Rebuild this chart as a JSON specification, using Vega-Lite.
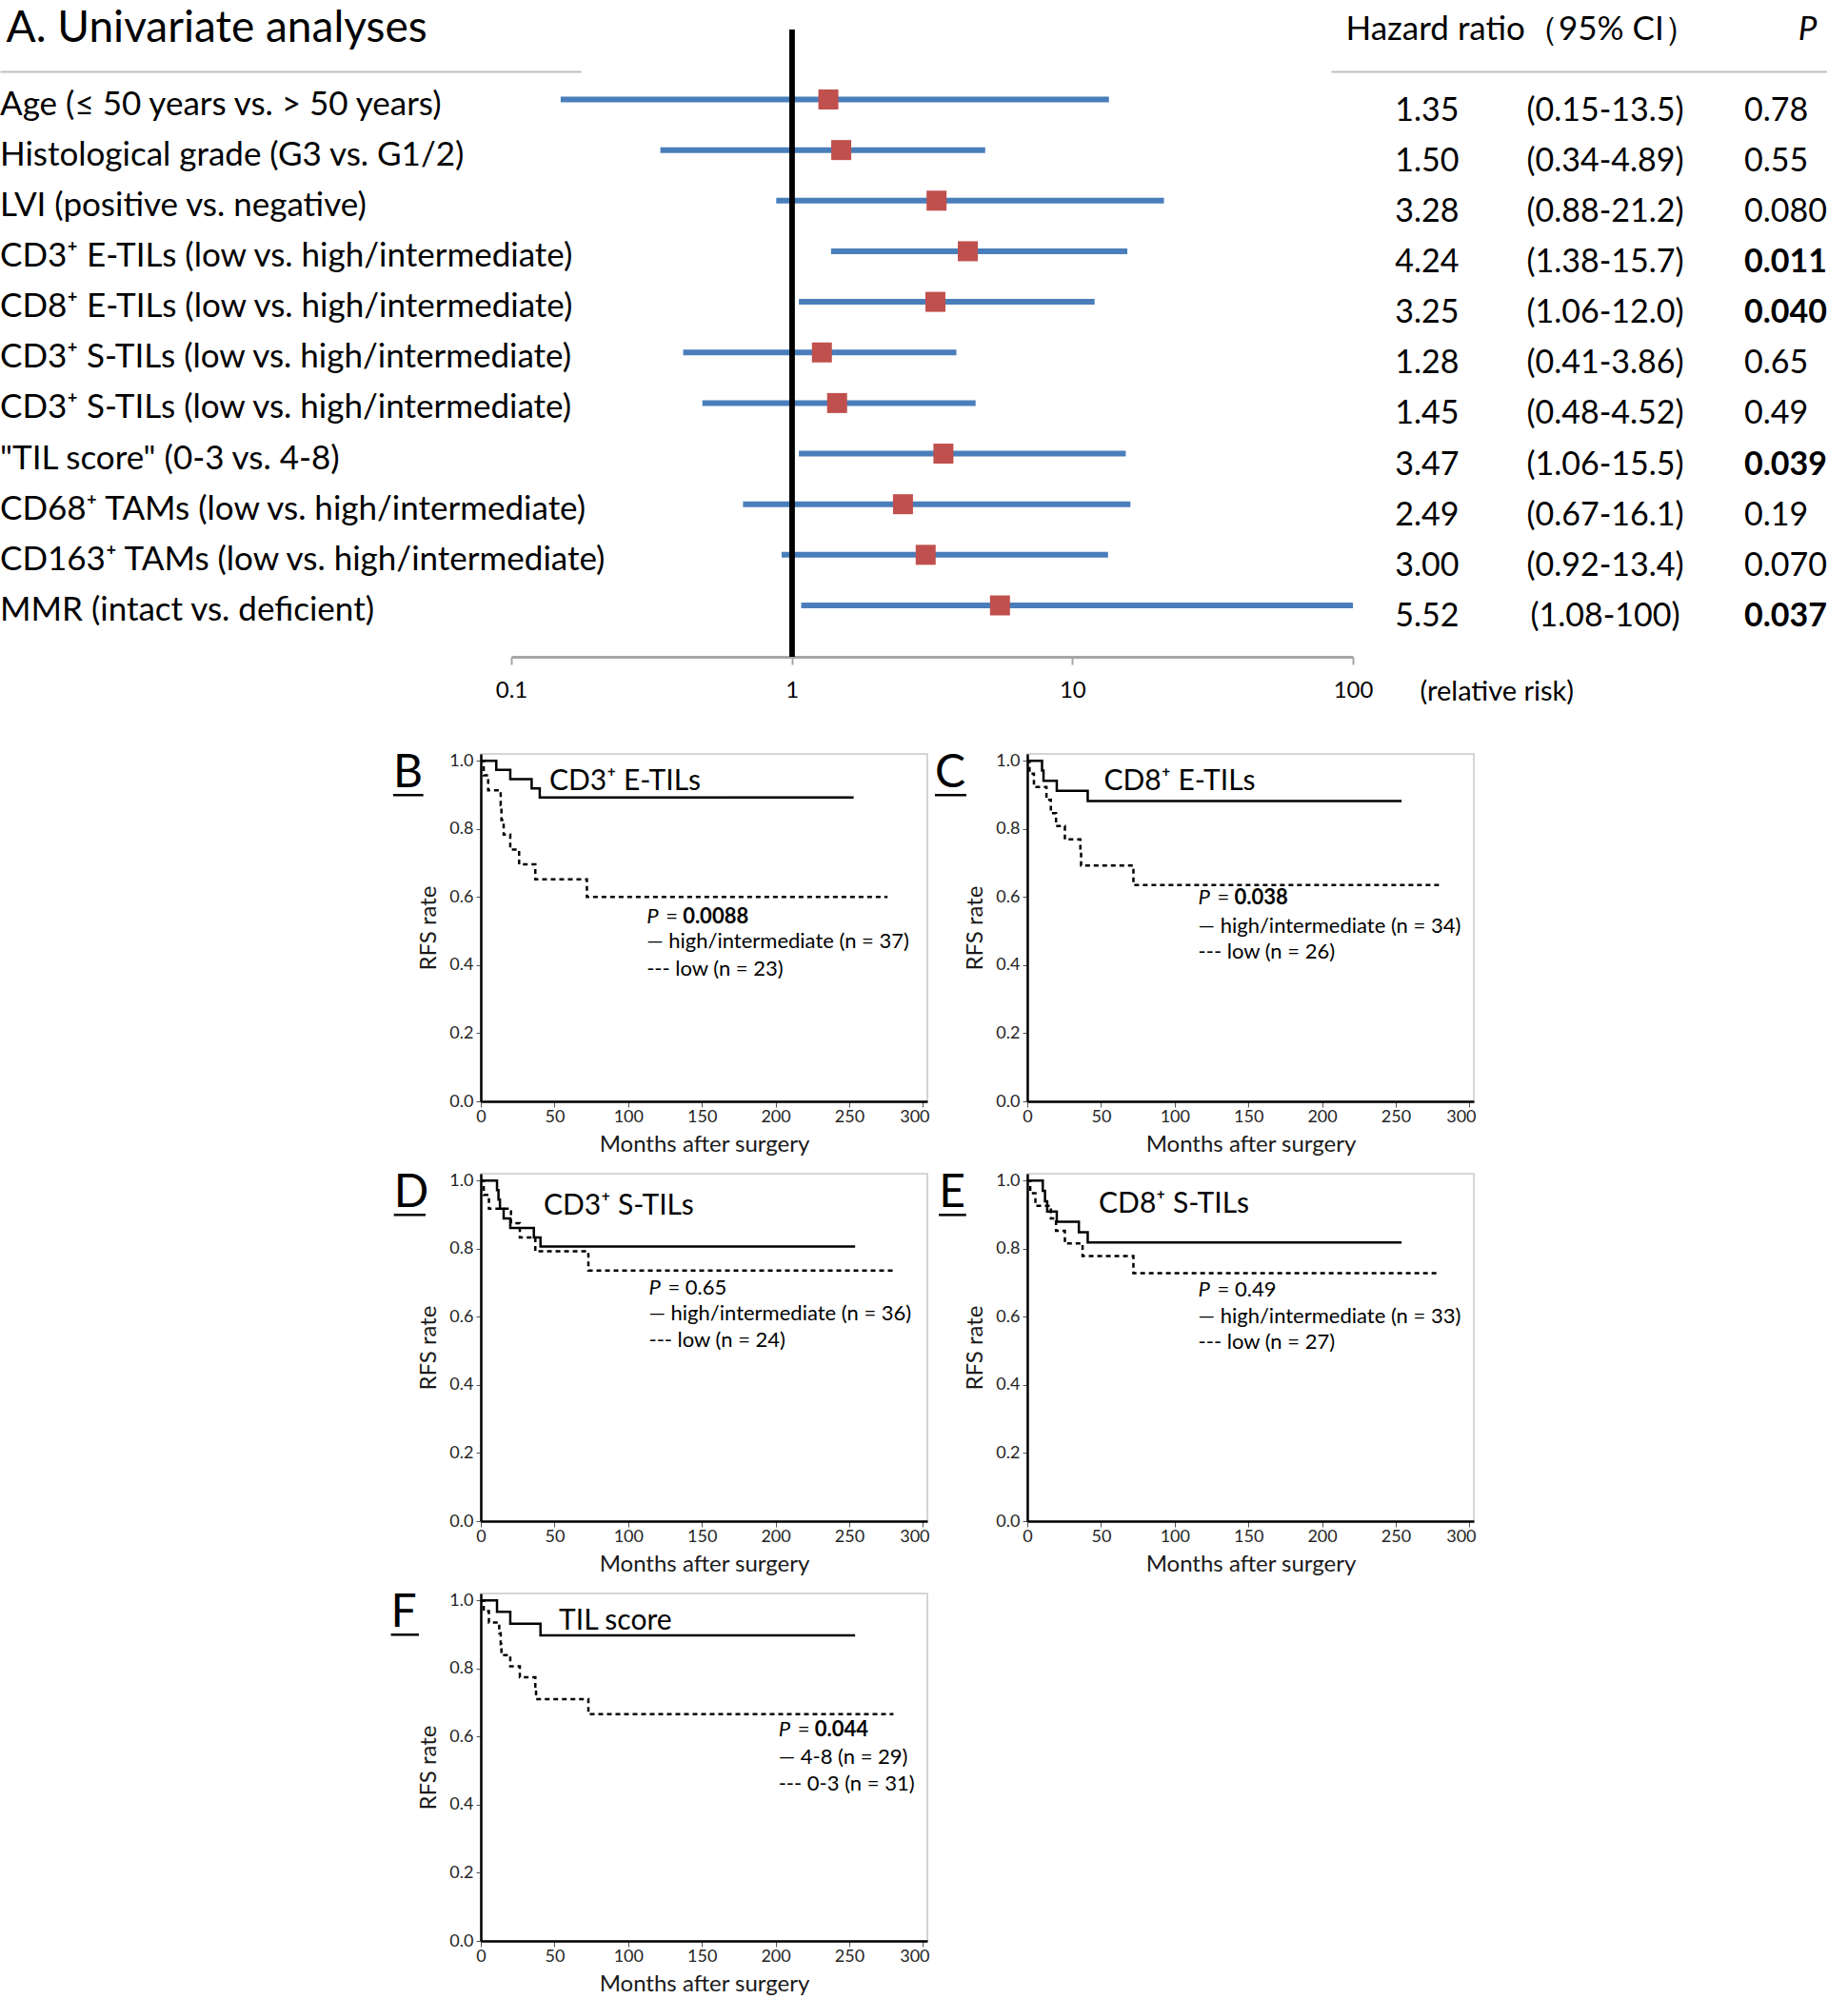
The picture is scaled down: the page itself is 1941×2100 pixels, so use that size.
{
  "$schema": "https://vega.github.io/schema/vega-lite/v6.json",
  "background": "white",
  "padding": {"left": 0, "top": 6, "right": 0, "bottom": 0},
  "config": {
    "font": "Lato",
    "view": {"stroke": "#c8c8c8", "strokeWidth": 1.5},
    "axis": {"grid": false, "labelFont": "Lato", "titleFont": "Lato", "labelColor": "#262626", "titleColor": "#1a1a1a", "titleFontWeight": "normal"},
    "text": {"font": "Lato", "color": "black"}
  },
  "datasets": {
    "forest": [
      {"i": 1, "label": "Age (≤ 50 years vs. > 50 years)", "hr": 1.35, "lo": 0.15, "hi": 13.5, "HRt": "1.35", "CIt": "(0.15-13.5)", "Pt": "0.78", "sig": false},
      {"i": 2, "label": "Histological grade (G3 vs. G1/2)", "hr": 1.50, "lo": 0.34, "hi": 4.89, "HRt": "1.50", "CIt": "(0.34-4.89)", "Pt": "0.55", "sig": false},
      {"i": 3, "label": "LVI (positive vs. negative)", "hr": 3.28, "lo": 0.88, "hi": 21.2, "HRt": "3.28", "CIt": "(0.88-21.2)", "Pt": "0.080", "sig": false},
      {"i": 4, "label": "CD3⁺ E-TILs (low vs. high/intermediate)", "hr": 4.24, "lo": 1.38, "hi": 15.7, "HRt": "4.24", "CIt": "(1.38-15.7)", "Pt": "0.011", "sig": true},
      {"i": 5, "label": "CD8⁺ E-TILs (low vs. high/intermediate)", "hr": 3.25, "lo": 1.06, "hi": 12.0, "HRt": "3.25", "CIt": "(1.06-12.0)", "Pt": "0.040", "sig": true},
      {"i": 6, "label": "CD3⁺ S-TILs (low vs. high/intermediate)", "hr": 1.28, "lo": 0.41, "hi": 3.86, "HRt": "1.28", "CIt": "(0.41-3.86)", "Pt": "0.65", "sig": false},
      {"i": 7, "label": "CD3⁺ S-TILs (low vs. high/intermediate)", "hr": 1.45, "lo": 0.48, "hi": 4.52, "HRt": "1.45", "CIt": "(0.48-4.52)", "Pt": "0.49", "sig": false},
      {"i": 8, "label": "\"TIL score\" (0-3 vs. 4-8)", "hr": 3.47, "lo": 1.06, "hi": 15.5, "HRt": "3.47", "CIt": "(1.06-15.5)", "Pt": "0.039", "sig": true},
      {"i": 9, "label": "CD68⁺ TAMs (low vs. high/intermediate)", "hr": 2.49, "lo": 0.67, "hi": 16.1, "HRt": "2.49", "CIt": "(0.67-16.1)", "Pt": "0.19", "sig": false},
      {"i": 10, "label": "CD163⁺ TAMs (low vs. high/intermediate)", "hr": 3.00, "lo": 0.92, "hi": 13.4, "HRt": "3.00", "CIt": "(0.92-13.4)", "Pt": "0.070", "sig": false},
      {"i": 11, "label": "MMR (intact vs. deficient)", "hr": 5.52, "lo": 1.08, "hi": 100, "HRt": "5.52", "CIt": "(1.08-100)", "Pt": "0.037", "sig": true}
    ],
    "km": [
      {"p": "B", "g": "hi", "t": 0, "s": 1}, {"p": "B", "g": "hi", "t": 10.5, "s": 0.973}, {"p": "B", "g": "hi", "t": 20, "s": 0.946}, {"p": "B", "g": "hi", "t": 34.5, "s": 0.919}, {"p": "B", "g": "hi", "t": 40, "s": 0.892}, {"p": "B", "g": "hi", "t": 253, "s": 0.892},
      {"p": "B", "g": "lo", "t": 0, "s": 1}, {"p": "B", "g": "lo", "t": 2, "s": 0.957}, {"p": "B", "g": "lo", "t": 5, "s": 0.913}, {"p": "B", "g": "lo", "t": 13.5, "s": 0.87}, {"p": "B", "g": "lo", "t": 14, "s": 0.826}, {"p": "B", "g": "lo", "t": 15.5, "s": 0.783}, {"p": "B", "g": "lo", "t": 20, "s": 0.739}, {"p": "B", "g": "lo", "t": 26, "s": 0.696}, {"p": "B", "g": "lo", "t": 37, "s": 0.652}, {"p": "B", "g": "lo", "t": 72, "s": 0.6}, {"p": "B", "g": "lo", "t": 276, "s": 0.6},
      {"p": "C", "g": "hi", "t": 0, "s": 1}, {"p": "C", "g": "hi", "t": 10, "s": 0.971}, {"p": "C", "g": "hi", "t": 11, "s": 0.941}, {"p": "C", "g": "hi", "t": 20, "s": 0.912}, {"p": "C", "g": "hi", "t": 41, "s": 0.882}, {"p": "C", "g": "hi", "t": 254, "s": 0.882},
      {"p": "C", "g": "lo", "t": 0, "s": 1}, {"p": "C", "g": "lo", "t": 1.5, "s": 0.962}, {"p": "C", "g": "lo", "t": 4.5, "s": 0.923}, {"p": "C", "g": "lo", "t": 13, "s": 0.885}, {"p": "C", "g": "lo", "t": 16, "s": 0.846}, {"p": "C", "g": "lo", "t": 19.5, "s": 0.808}, {"p": "C", "g": "lo", "t": 25.5, "s": 0.769}, {"p": "C", "g": "lo", "t": 36, "s": 0.731}, {"p": "C", "g": "lo", "t": 36.5, "s": 0.692}, {"p": "C", "g": "lo", "t": 72, "s": 0.635}, {"p": "C", "g": "lo", "t": 280, "s": 0.635},
      {"p": "D", "g": "hi", "t": 0, "s": 1}, {"p": "D", "g": "hi", "t": 11, "s": 0.972}, {"p": "D", "g": "hi", "t": 12, "s": 0.944}, {"p": "D", "g": "hi", "t": 13, "s": 0.917}, {"p": "D", "g": "hi", "t": 15.5, "s": 0.889}, {"p": "D", "g": "hi", "t": 20, "s": 0.861}, {"p": "D", "g": "hi", "t": 36, "s": 0.833}, {"p": "D", "g": "hi", "t": 40.5, "s": 0.806}, {"p": "D", "g": "hi", "t": 254, "s": 0.806},
      {"p": "D", "g": "lo", "t": 0, "s": 1}, {"p": "D", "g": "lo", "t": 2, "s": 0.958}, {"p": "D", "g": "lo", "t": 5.5, "s": 0.917}, {"p": "D", "g": "lo", "t": 20.5, "s": 0.875}, {"p": "D", "g": "lo", "t": 26.5, "s": 0.833}, {"p": "D", "g": "lo", "t": 37, "s": 0.792}, {"p": "D", "g": "lo", "t": 73, "s": 0.736}, {"p": "D", "g": "lo", "t": 280, "s": 0.736},
      {"p": "E", "g": "hi", "t": 0, "s": 1}, {"p": "E", "g": "hi", "t": 10.5, "s": 0.97}, {"p": "E", "g": "hi", "t": 12, "s": 0.939}, {"p": "E", "g": "hi", "t": 13.5, "s": 0.909}, {"p": "E", "g": "hi", "t": 20, "s": 0.879}, {"p": "E", "g": "hi", "t": 35, "s": 0.848}, {"p": "E", "g": "hi", "t": 41, "s": 0.818}, {"p": "E", "g": "hi", "t": 254, "s": 0.818},
      {"p": "E", "g": "lo", "t": 0, "s": 1}, {"p": "E", "g": "lo", "t": 2, "s": 0.963}, {"p": "E", "g": "lo", "t": 5.5, "s": 0.926}, {"p": "E", "g": "lo", "t": 16, "s": 0.889}, {"p": "E", "g": "lo", "t": 19.5, "s": 0.852}, {"p": "E", "g": "lo", "t": 25.5, "s": 0.815}, {"p": "E", "g": "lo", "t": 37.5, "s": 0.778}, {"p": "E", "g": "lo", "t": 72, "s": 0.728}, {"p": "E", "g": "lo", "t": 279, "s": 0.728},
      {"p": "F", "g": "hi", "t": 0, "s": 1}, {"p": "F", "g": "hi", "t": 11, "s": 0.966}, {"p": "F", "g": "hi", "t": 20, "s": 0.931}, {"p": "F", "g": "hi", "t": 40.5, "s": 0.897}, {"p": "F", "g": "hi", "t": 254, "s": 0.897},
      {"p": "F", "g": "lo", "t": 0, "s": 1}, {"p": "F", "g": "lo", "t": 2, "s": 0.968}, {"p": "F", "g": "lo", "t": 5.5, "s": 0.935}, {"p": "F", "g": "lo", "t": 12.5, "s": 0.903}, {"p": "F", "g": "lo", "t": 13.5, "s": 0.871}, {"p": "F", "g": "lo", "t": 14, "s": 0.839}, {"p": "F", "g": "lo", "t": 20, "s": 0.806}, {"p": "F", "g": "lo", "t": 26.5, "s": 0.774}, {"p": "F", "g": "lo", "t": 37, "s": 0.742}, {"p": "F", "g": "lo", "t": 37.5, "s": 0.71}, {"p": "F", "g": "lo", "t": 73, "s": 0.666}, {"p": "F", "g": "lo", "t": 280, "s": 0.666}
    ]
  },
  "bounds": "flush",
  "columns": 2,
  "align": "each",
  "spacing": {"row": 76, "column": 105},
  "concat": [
    {
      "width": 469,
      "height": 659,
      "view": {"stroke": null},
      "data": {"name": "forest"},
      "resolve": {"scale": {"x": "independent"}, "axis": {"x": "independent"}},
      "layer": [
        {
          "layer": [
            {
              "mark": {"type": "rule", "color": "#4A7EBB", "strokeWidth": 6},
              "encoding": {
                "x": {"field": "lo", "type": "quantitative", "scale": {"type": "log", "domain": [0.1, 100], "range": [32, 916], "nice": false},
                  "axis": {"orient": "bottom", "values": [0.1, 1, 10, 100], "format": "~g", "domainColor": "#a6a6a6", "domainWidth": 3, "tickColor": "#a6a6a6", "tickWidth": 2, "tickSize": 8, "labelFontSize": 24, "labelColor": "black", "labelPadding": 15, "labelFlush": false, "labelOverlap": false, "title": "(relative risk)", "titleFontSize": 29, "titleColor": "black", "titleX": 986, "titleY": 36, "titleAlign": "left", "titleBaseline": "middle"}},
                "x2": {"field": "hi"},
                "y": {"field": "i", "type": "ordinal", "scale": {"type": "point", "range": [73.5, 605], "padding": 0}, "axis": null}
              }
            },
            {
              "mark": {"type": "point", "shape": "square", "filled": true, "size": 441, "color": "#C0504D", "opacity": 1},
              "encoding": {
                "x": {"field": "hr", "type": "quantitative"},
                "y": {"field": "i", "type": "ordinal"}
              }
            },
            {
              "mark": {"type": "rule", "color": "black", "strokeWidth": 5},
              "encoding": {"x": {"datum": 1, "type": "quantitative"}}
            }
          ]
        },
        {
          "mark": {"type": "text", "fontSize": 35, "align": "left", "baseline": "middle", "dy": 5},
          "encoding": {
            "x": {"datum": 0, "type": "quantitative", "scale": {"domain": [0, 1], "range": [-505, 105]},
              "axis": {"orient": "top", "offset": -44, "domainColor": "#bfbfbf", "domainWidth": 2, "ticks": false, "labels": false, "title": "A. Univariate analyses", "titleAnchor": "start", "titleAlign": "left", "titleX": -499, "titleBaseline": "alphabetic", "titleFontSize": 46, "titleFontWeight": "normal", "titleColor": "black", "titlePadding": 32}},
            "y": {"field": "i", "type": "ordinal"},
            "text": {"field": "label"}
          }
        }
      ]
    },
    {
      "width": 469,
      "height": 685,
      "view": {"stroke": null},
      "data": {"name": "forest"},
      "layer": [
        {
          "mark": {"type": "text", "fontSize": 34, "align": "center", "baseline": "middle", "dy": 12},
          "encoding": {
            "x": {"datum": "HR", "type": "nominal", "scale": {"type": "point", "domain": ["HR", "CI", "P"], "range": [319, 858], "padding": 0.441, "align": 0.612},
              "axis": {"orient": "top", "offset": -44, "domainColor": "#bfbfbf", "domainWidth": 2, "ticks": false,
                "labelExpr": "datum.value === 'HR' ? 'Hazard ratio（95% CI）' : (datum.value === 'P' ? 'P' : '')",
                "labelAngle": 0, "labelLimit": 0,
                "labelAlign": {"condition": {"test": "datum.value === 'HR'", "value": "left"}, "value": "center"},
                "labelOffset": {"condition": {"test": "datum.value === 'HR'", "value": -86}, "value": 25},
                "labelFontStyle": {"condition": {"test": "datum.value === 'P'", "value": "italic"}, "value": "normal"},
                "labelFontSize": 35, "labelColor": "black", "labelBaseline": "alphabetic", "labelPadding": 34, "labelOverlap": false, "labelBound": false, "title": null}},
            "y": {"field": "i", "type": "ordinal", "scale": {"type": "point", "range": [73.5, 605], "padding": 0}, "axis": null},
            "text": {"field": "HRt"}
          }
        },
        {
          "mark": {"type": "text", "fontSize": 34, "align": "center", "baseline": "middle", "dy": 12},
          "encoding": {
            "x": {"datum": "CI", "type": "nominal"},
            "y": {"field": "i", "type": "ordinal"},
            "text": {"field": "CIt"}
          }
        },
        {
          "transform": [{"filter": "!datum.sig"}],
          "mark": {"type": "text", "fontSize": 34, "align": "left", "baseline": "middle", "dy": 12, "dx": -41},
          "encoding": {
            "x": {"datum": "P", "type": "nominal"},
            "y": {"field": "i", "type": "ordinal"},
            "text": {"field": "Pt"}
          }
        },
        {
          "transform": [{"filter": "datum.sig"}],
          "mark": {"type": "text", "fontSize": 34, "fontWeight": "bold", "align": "left", "baseline": "middle", "dy": 12, "dx": -41},
          "encoding": {
            "x": {"datum": "P", "type": "nominal"},
            "y": {"field": "i", "type": "ordinal"},
            "text": {"field": "Pt"}
          }
        }
      ]
    },
    {
      "width": 469, "height": 365,
      "data": {"values": [{}]},
      "layer": [
        {"data": {"name": "km"}, "transform": [{"filter": "datum.p === 'B'"}],
         "mark": {"type": "line", "interpolate": "step-after", "color": "black", "strokeWidth": 2.5},
         "encoding": {
           "x": {"field": "t", "type": "quantitative", "scale": {"domain": [0, 303], "nice": false},
             "axis": {"values": [0, 25, 50, 75, 100, 125, 150, 175, 200, 225, 250, 275, 300], "labelExpr": "datum.value % 50 === 0 ? datum.label : ''", "labelOffset": {"condition": {"test": "datum.value === 300", "value": -9}, "value": 0}, "tickSize": {"condition": {"test": "datum.value % 50 === 0", "value": 6}, "value": 3}, "tickColor": "#555", "domainColor": "black", "domainWidth": 2.5, "labelFontSize": 18, "labelPadding": 1, "labelFlush": false, "labelOverlap": false, "title": "Months after surgery", "titleFontSize": 24, "titlePadding": 8}},
           "y": {"field": "s", "type": "quantitative", "scale": {"domain": [0, 1.02], "nice": false},
             "axis": {"values": [0, 0.1, 0.2, 0.3, 0.4, 0.5, 0.6, 0.7, 0.8, 0.9, 1], "format": ".1f", "labelExpr": "round(datum.value*10) % 2 === 0 ? datum.label : ''", "tickSize": {"condition": {"test": "round(datum.value*10) % 2 === 0", "value": 5}, "value": 3}, "tickColor": "#555", "domainColor": "black", "domainWidth": 2.5, "labelFontSize": 18, "labelPadding": 3, "labelFlush": false, "labelOverlap": false, "title": "RFS rate", "titleFontSize": 24, "titlePadding": 9}},
           "detail": {"field": "g"},
           "strokeDash": {"field": "g", "type": "nominal", "scale": {"domain": ["hi", "lo"], "range": [[1, 0], [5, 4]]}, "legend": null}
         }},
        {"mark": {"type": "text", "text": "CD3⁺ E-TILs", "align": "left", "baseline": "alphabetic", "fontSize": 30}, "encoding": {"x": {"datum": 46.5}, "y": {"datum": 0.913}}},
        {"mark": {"type": "text", "text": "B", "align": "left", "baseline": "alphabetic", "fontSize": 48}, "encoding": {"x": {"datum": -59.5}, "y": {"datum": 0.921}}},
        {"mark": {"type": "rule", "color": "black", "strokeWidth": 2.5}, "encoding": {"x": {"datum": -59.5}, "x2": {"datum": -39}, "y": {"datum": 0.899}}},
        {"mark": {"type": "text", "text": "P", "align": "left", "baseline": "middle", "fontSize": 22, "fontStyle": "italic"}, "encoding": {"x": {"datum": 112.5}, "y": {"datum": 0.543}}},
        {"mark": {"type": "text", "text": "=", "align": "left", "baseline": "middle", "fontSize": 22, "dx": 20}, "encoding": {"x": {"datum": 112.5}, "y": {"datum": 0.543}}},
        {"mark": {"type": "text", "text": "0.0088", "align": "left", "baseline": "middle", "fontSize": 22, "fontWeight": "bold", "dx": 38}, "encoding": {"x": {"datum": 112.5}, "y": {"datum": 0.543}}},
        {"mark": {"type": "text", "text": "— high/intermediate (n = 37)", "align": "left", "baseline": "middle", "fontSize": 22}, "encoding": {"x": {"datum": 112.5}, "y": {"datum": 0.47}}},
        {"mark": {"type": "text", "text": "--- low (n = 23)", "align": "left", "baseline": "middle", "fontSize": 22}, "encoding": {"x": {"datum": 112.5}, "y": {"datum": 0.389}}}
      ]
    },
    {
      "width": 469, "height": 365,
      "data": {"values": [{}]},
      "layer": [
        {"data": {"name": "km"}, "transform": [{"filter": "datum.p === 'C'"}],
         "mark": {"type": "line", "interpolate": "step-after", "color": "black", "strokeWidth": 2.5},
         "encoding": {
           "x": {"field": "t", "type": "quantitative", "scale": {"domain": [0, 303], "nice": false},
             "axis": {"values": [0, 25, 50, 75, 100, 125, 150, 175, 200, 225, 250, 275, 300], "labelExpr": "datum.value % 50 === 0 ? datum.label : ''", "labelOffset": {"condition": {"test": "datum.value === 300", "value": -9}, "value": 0}, "tickSize": {"condition": {"test": "datum.value % 50 === 0", "value": 6}, "value": 3}, "tickColor": "#555", "domainColor": "black", "domainWidth": 2.5, "labelFontSize": 18, "labelPadding": 1, "labelFlush": false, "labelOverlap": false, "title": "Months after surgery", "titleFontSize": 24, "titlePadding": 8}},
           "y": {"field": "s", "type": "quantitative", "scale": {"domain": [0, 1.02], "nice": false},
             "axis": {"values": [0, 0.1, 0.2, 0.3, 0.4, 0.5, 0.6, 0.7, 0.8, 0.9, 1], "format": ".1f", "labelExpr": "round(datum.value*10) % 2 === 0 ? datum.label : ''", "tickSize": {"condition": {"test": "round(datum.value*10) % 2 === 0", "value": 5}, "value": 3}, "tickColor": "#555", "domainColor": "black", "domainWidth": 2.5, "labelFontSize": 18, "labelPadding": 3, "labelFlush": false, "labelOverlap": false, "title": "RFS rate", "titleFontSize": 24, "titlePadding": 9}},
           "detail": {"field": "g"},
           "strokeDash": {"field": "g", "type": "nominal", "scale": {"domain": ["hi", "lo"], "range": [[1, 0], [5, 4]]}, "legend": null}
         }},
        {"mark": {"type": "text", "text": "CD8⁺ E-TILs", "align": "left", "baseline": "alphabetic", "fontSize": 30}, "encoding": {"x": {"datum": 52}, "y": {"datum": 0.913}}},
        {"mark": {"type": "text", "text": "C", "align": "left", "baseline": "alphabetic", "fontSize": 48}, "encoding": {"x": {"datum": -62.7}, "y": {"datum": 0.921}}},
        {"mark": {"type": "rule", "color": "black", "strokeWidth": 2.5}, "encoding": {"x": {"datum": -62.7}, "x2": {"datum": -41.4}, "y": {"datum": 0.899}}},
        {"mark": {"type": "text", "text": "P", "align": "left", "baseline": "middle", "fontSize": 22, "fontStyle": "italic"}, "encoding": {"x": {"datum": 116}, "y": {"datum": 0.597}}},
        {"mark": {"type": "text", "text": "=", "align": "left", "baseline": "middle", "fontSize": 22, "dx": 20}, "encoding": {"x": {"datum": 116}, "y": {"datum": 0.597}}},
        {"mark": {"type": "text", "text": "0.038", "align": "left", "baseline": "middle", "fontSize": 22, "fontWeight": "bold", "dx": 38}, "encoding": {"x": {"datum": 116}, "y": {"datum": 0.597}}},
        {"mark": {"type": "text", "text": "— high/intermediate (n = 34)", "align": "left", "baseline": "middle", "fontSize": 22}, "encoding": {"x": {"datum": 116}, "y": {"datum": 0.515}}},
        {"mark": {"type": "text", "text": "--- low (n = 26)", "align": "left", "baseline": "middle", "fontSize": 22}, "encoding": {"x": {"datum": 116}, "y": {"datum": 0.44}}}
      ]
    },
    {
      "width": 469, "height": 365,
      "data": {"values": [{}]},
      "layer": [
        {"data": {"name": "km"}, "transform": [{"filter": "datum.p === 'D'"}],
         "mark": {"type": "line", "interpolate": "step-after", "color": "black", "strokeWidth": 2.5},
         "encoding": {
           "x": {"field": "t", "type": "quantitative", "scale": {"domain": [0, 303], "nice": false},
             "axis": {"values": [0, 25, 50, 75, 100, 125, 150, 175, 200, 225, 250, 275, 300], "labelExpr": "datum.value % 50 === 0 ? datum.label : ''", "labelOffset": {"condition": {"test": "datum.value === 300", "value": -9}, "value": 0}, "tickSize": {"condition": {"test": "datum.value % 50 === 0", "value": 6}, "value": 3}, "tickColor": "#555", "domainColor": "black", "domainWidth": 2.5, "labelFontSize": 18, "labelPadding": 1, "labelFlush": false, "labelOverlap": false, "title": "Months after surgery", "titleFontSize": 24, "titlePadding": 8}},
           "y": {"field": "s", "type": "quantitative", "scale": {"domain": [0, 1.02], "nice": false},
             "axis": {"values": [0, 0.1, 0.2, 0.3, 0.4, 0.5, 0.6, 0.7, 0.8, 0.9, 1], "format": ".1f", "labelExpr": "round(datum.value*10) % 2 === 0 ? datum.label : ''", "tickSize": {"condition": {"test": "round(datum.value*10) % 2 === 0", "value": 5}, "value": 3}, "tickColor": "#555", "domainColor": "black", "domainWidth": 2.5, "labelFontSize": 18, "labelPadding": 3, "labelFlush": false, "labelOverlap": false, "title": "RFS rate", "titleFontSize": 24, "titlePadding": 9}},
           "detail": {"field": "g"},
           "strokeDash": {"field": "g", "type": "nominal", "scale": {"domain": ["hi", "lo"], "range": [[1, 0], [5, 4]]}, "legend": null}
         }},
        {"mark": {"type": "text", "text": "CD3⁺ S-TILs", "align": "left", "baseline": "alphabetic", "fontSize": 30}, "encoding": {"x": {"datum": 42.6}, "y": {"datum": 0.9}}},
        {"mark": {"type": "text", "text": "D", "align": "left", "baseline": "alphabetic", "fontSize": 48}, "encoding": {"x": {"datum": -59}, "y": {"datum": 0.921}}},
        {"mark": {"type": "rule", "color": "black", "strokeWidth": 2.5}, "encoding": {"x": {"datum": -59}, "x2": {"datum": -37.5}, "y": {"datum": 0.899}}},
        {"mark": {"type": "text", "text": "P", "align": "left", "baseline": "middle", "fontSize": 22, "fontStyle": "italic"}, "encoding": {"x": {"datum": 114}, "y": {"datum": 0.686}}},
        {"mark": {"type": "text", "text": "= 0.65", "align": "left", "baseline": "middle", "fontSize": 22, "dx": 20}, "encoding": {"x": {"datum": 114}, "y": {"datum": 0.686}}},
        {"mark": {"type": "text", "text": "— high/intermediate (n = 36)", "align": "left", "baseline": "middle", "fontSize": 22}, "encoding": {"x": {"datum": 114}, "y": {"datum": 0.608}}},
        {"mark": {"type": "text", "text": "--- low (n = 24)", "align": "left", "baseline": "middle", "fontSize": 22}, "encoding": {"x": {"datum": 114}, "y": {"datum": 0.532}}}
      ]
    },
    {
      "width": 469, "height": 365,
      "data": {"values": [{}]},
      "layer": [
        {"data": {"name": "km"}, "transform": [{"filter": "datum.p === 'E'"}],
         "mark": {"type": "line", "interpolate": "step-after", "color": "black", "strokeWidth": 2.5},
         "encoding": {
           "x": {"field": "t", "type": "quantitative", "scale": {"domain": [0, 303], "nice": false},
             "axis": {"values": [0, 25, 50, 75, 100, 125, 150, 175, 200, 225, 250, 275, 300], "labelExpr": "datum.value % 50 === 0 ? datum.label : ''", "labelOffset": {"condition": {"test": "datum.value === 300", "value": -9}, "value": 0}, "tickSize": {"condition": {"test": "datum.value % 50 === 0", "value": 6}, "value": 3}, "tickColor": "#555", "domainColor": "black", "domainWidth": 2.5, "labelFontSize": 18, "labelPadding": 1, "labelFlush": false, "labelOverlap": false, "title": "Months after surgery", "titleFontSize": 24, "titlePadding": 8}},
           "y": {"field": "s", "type": "quantitative", "scale": {"domain": [0, 1.02], "nice": false},
             "axis": {"values": [0, 0.1, 0.2, 0.3, 0.4, 0.5, 0.6, 0.7, 0.8, 0.9, 1], "format": ".1f", "labelExpr": "round(datum.value*10) % 2 === 0 ? datum.label : ''", "tickSize": {"condition": {"test": "round(datum.value*10) % 2 === 0", "value": 5}, "value": 3}, "tickColor": "#555", "domainColor": "black", "domainWidth": 2.5, "labelFontSize": 18, "labelPadding": 3, "labelFlush": false, "labelOverlap": false, "title": "RFS rate", "titleFontSize": 24, "titlePadding": 9}},
           "detail": {"field": "g"},
           "strokeDash": {"field": "g", "type": "nominal", "scale": {"domain": ["hi", "lo"], "range": [[1, 0], [5, 4]]}, "legend": null}
         }},
        {"mark": {"type": "text", "text": "CD8⁺ S-TILs", "align": "left", "baseline": "alphabetic", "fontSize": 30}, "encoding": {"x": {"datum": 48.5}, "y": {"datum": 0.905}}},
        {"mark": {"type": "text", "text": "E", "align": "left", "baseline": "alphabetic", "fontSize": 48}, "encoding": {"x": {"datum": -60}, "y": {"datum": 0.921}}},
        {"mark": {"type": "rule", "color": "black", "strokeWidth": 2.5}, "encoding": {"x": {"datum": -60}, "x2": {"datum": -41.5}, "y": {"datum": 0.899}}},
        {"mark": {"type": "text", "text": "P", "align": "left", "baseline": "middle", "fontSize": 22, "fontStyle": "italic"}, "encoding": {"x": {"datum": 116}, "y": {"datum": 0.68}}},
        {"mark": {"type": "text", "text": "= 0.49", "align": "left", "baseline": "middle", "fontSize": 22, "dx": 20}, "encoding": {"x": {"datum": 116}, "y": {"datum": 0.68}}},
        {"mark": {"type": "text", "text": "— high/intermediate (n = 33)", "align": "left", "baseline": "middle", "fontSize": 22}, "encoding": {"x": {"datum": 116}, "y": {"datum": 0.6}}},
        {"mark": {"type": "text", "text": "--- low (n = 27)", "align": "left", "baseline": "middle", "fontSize": 22}, "encoding": {"x": {"datum": 116}, "y": {"datum": 0.524}}}
      ]
    },
    {
      "width": 469, "height": 365,
      "data": {"values": [{}]},
      "layer": [
        {"data": {"name": "km"}, "transform": [{"filter": "datum.p === 'F'"}],
         "mark": {"type": "line", "interpolate": "step-after", "color": "black", "strokeWidth": 2.5},
         "encoding": {
           "x": {"field": "t", "type": "quantitative", "scale": {"domain": [0, 303], "nice": false},
             "axis": {"values": [0, 25, 50, 75, 100, 125, 150, 175, 200, 225, 250, 275, 300], "labelExpr": "datum.value % 50 === 0 ? datum.label : ''", "labelOffset": {"condition": {"test": "datum.value === 300", "value": -9}, "value": 0}, "tickSize": {"condition": {"test": "datum.value % 50 === 0", "value": 6}, "value": 3}, "tickColor": "#555", "domainColor": "black", "domainWidth": 2.5, "labelFontSize": 18, "labelPadding": 1, "labelFlush": false, "labelOverlap": false, "title": "Months after surgery", "titleFontSize": 24, "titlePadding": 8}},
           "y": {"field": "s", "type": "quantitative", "scale": {"domain": [0, 1.02], "nice": false},
             "axis": {"values": [0, 0.1, 0.2, 0.3, 0.4, 0.5, 0.6, 0.7, 0.8, 0.9, 1], "format": ".1f", "labelExpr": "round(datum.value*10) % 2 === 0 ? datum.label : ''", "tickSize": {"condition": {"test": "round(datum.value*10) % 2 === 0", "value": 5}, "value": 3}, "tickColor": "#555", "domainColor": "black", "domainWidth": 2.5, "labelFontSize": 18, "labelPadding": 3, "labelFlush": false, "labelOverlap": false, "title": "RFS rate", "titleFontSize": 24, "titlePadding": 9}},
           "detail": {"field": "g"},
           "strokeDash": {"field": "g", "type": "nominal", "scale": {"domain": ["hi", "lo"], "range": [[1, 0], [5, 4]]}, "legend": null}
         }},
        {"mark": {"type": "text", "text": "TIL score", "align": "left", "baseline": "alphabetic", "fontSize": 30}, "encoding": {"x": {"datum": 53}, "y": {"datum": 0.913}}},
        {"mark": {"type": "text", "text": "F", "align": "left", "baseline": "alphabetic", "fontSize": 48}, "encoding": {"x": {"datum": -61}, "y": {"datum": 0.921}}},
        {"mark": {"type": "rule", "color": "black", "strokeWidth": 2.5}, "encoding": {"x": {"datum": -61}, "x2": {"datum": -42}, "y": {"datum": 0.899}}},
        {"mark": {"type": "text", "text": "P", "align": "left", "baseline": "middle", "fontSize": 22, "fontStyle": "italic"}, "encoding": {"x": {"datum": 202}, "y": {"datum": 0.619}}},
        {"mark": {"type": "text", "text": "=", "align": "left", "baseline": "middle", "fontSize": 22, "dx": 20}, "encoding": {"x": {"datum": 202}, "y": {"datum": 0.619}}},
        {"mark": {"type": "text", "text": "0.044", "align": "left", "baseline": "middle", "fontSize": 22, "fontWeight": "bold", "dx": 38}, "encoding": {"x": {"datum": 202}, "y": {"datum": 0.619}}},
        {"mark": {"type": "text", "text": "— 4-8 (n = 29)", "align": "left", "baseline": "middle", "fontSize": 22}, "encoding": {"x": {"datum": 202}, "y": {"datum": 0.538}}},
        {"mark": {"type": "text", "text": "--- 0-3 (n = 31)", "align": "left", "baseline": "middle", "fontSize": 22}, "encoding": {"x": {"datum": 202}, "y": {"datum": 0.46}}}
      ]
    }
  ]
}
